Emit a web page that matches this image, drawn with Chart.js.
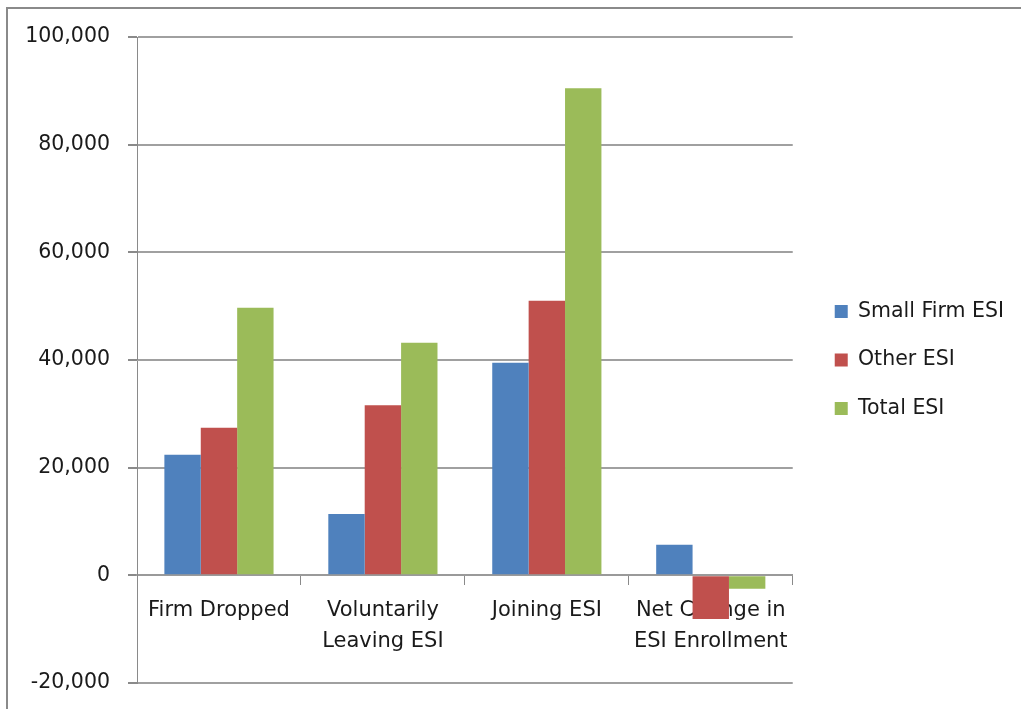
<!DOCTYPE html>
<html lang="en">
<head>
    <meta charset="UTF-8">
    <title>ESI Enrollment Changes</title>
    <script src="https://cdn.jsdelivr.net/npm/chart.js"></script>
    <style>
        body { margin: 0; background: #fff; }
        #wrap { position: relative; width: 1021px; height: 709px; overflow: hidden; }
        #frame {
            position: absolute; left: 6px; top: 7px; width: 1100px; height: 800px;
            border-left: 2px solid #8a8a8a; border-top: 2px solid #8a8a8a;
            pointer-events: none;
        }
        canvas { position: absolute; left: 0; top: 0; }
    </style>
</head>
<body>
    <div id="wrap">
        <canvas id="esiChart" width="1021" height="709"></canvas>
        <div id="frame"></div>
    </div>
    <script>
        const categories = [
            ['Firm Dropped'],
            ['Voluntarily', 'Leaving ESI'],
            ['Joining ESI'],
            ['Net Change in', 'ESI Enrollment']
        ];
        const smallFirm = [22400, 11400, 39500, 5700];
        const otherEsi = [27400, 31600, 51000, -8100];
        const totalEsi = [49700, 43200, 90500, -2500];
        const yTicks = [-20000, 0, 20000, 40000, 60000, 80000, 100000];

        const font = 'DejaVu Sans';

        // nudge the legend a bit away from the plot, like the original
        const legendShift = {
            id: 'legendShift',
            afterLayout(chart) {
                chart.legend.left += 14;
                chart.legend.right += 14;
            }
        };

        const ctx = document.getElementById('esiChart').getContext('2d');
        const chart = new Chart(ctx, {
            type: 'bar',
            data: {
                labels: categories,
                datasets: [
                    { label: 'Small Firm ESI', data: smallFirm, backgroundColor: '#4F81BD' },
                    { label: 'Other ESI', data: otherEsi, backgroundColor: '#C0504D' },
                    { label: 'Total ESI', data: totalEsi, backgroundColor: '#9BBB59' }
                ]
            },
            options: {
                responsive: false,
                animation: false,
                categoryPercentage: 0.666,
                barPercentage: 1.0,
                layout: { padding: { left: 0, top: 37, right: 21, bottom: 26 } },
                scales: {
                    x: {
                        position: { y: 0 },
                        z: 1,
                        grid: {
                            display: true,
                            drawOnChartArea: false,
                            drawTicks: true,
                            tickLength: 9,
                            offset: true,
                            color: '#8a8a8a',
                            lineWidth: 1
                        },
                        border: { display: true, color: '#9a9a9a', width: 2 },
                        ticks: {
                            color: '#1a1a1a',
                            font: { family: font, size: 21, lineHeight: 1.48 },
                            padding: 11,
                            maxRotation: 0,
                            autoSkip: false
                        }
                    },
                    y: {
                        min: -20000,
                        max: 100000,
                        afterBuildTicks: (scale) => { scale.ticks = yTicks.map(v => ({ value: v })); },
                        afterFit: (scale) => {
                            scale.width = 137;
                            scale.paddingTop = 12;
                            scale.paddingBottom = 12;
                        },
                        grid: {
                            color: '#a0a0a0',
                            lineWidth: 2,
                            tickLength: 9,
                            tickColor: '#8a8a8a'
                        },
                        border: { display: true, color: '#8a8a8a', width: 1 },
                        ticks: {
                            color: '#1a1a1a',
                            padding: 18,
                            font: { family: font, size: 20.5 },
                            callback: (v) => v.toLocaleString('en-US')
                        }
                    }
                },
                plugins: {
                    legend: {
                        position: 'right',
                        labels: {
                            color: '#1a1a1a',
                            font: { family: font, size: 20.5 },
                            boxWidth: 13,
                            boxHeight: 13,
                            padding: 28
                        }
                    },
                    tooltip: { enabled: false }
                }
            },
            plugins: [legendShift]
        });
    </script>
</body>
</html>
